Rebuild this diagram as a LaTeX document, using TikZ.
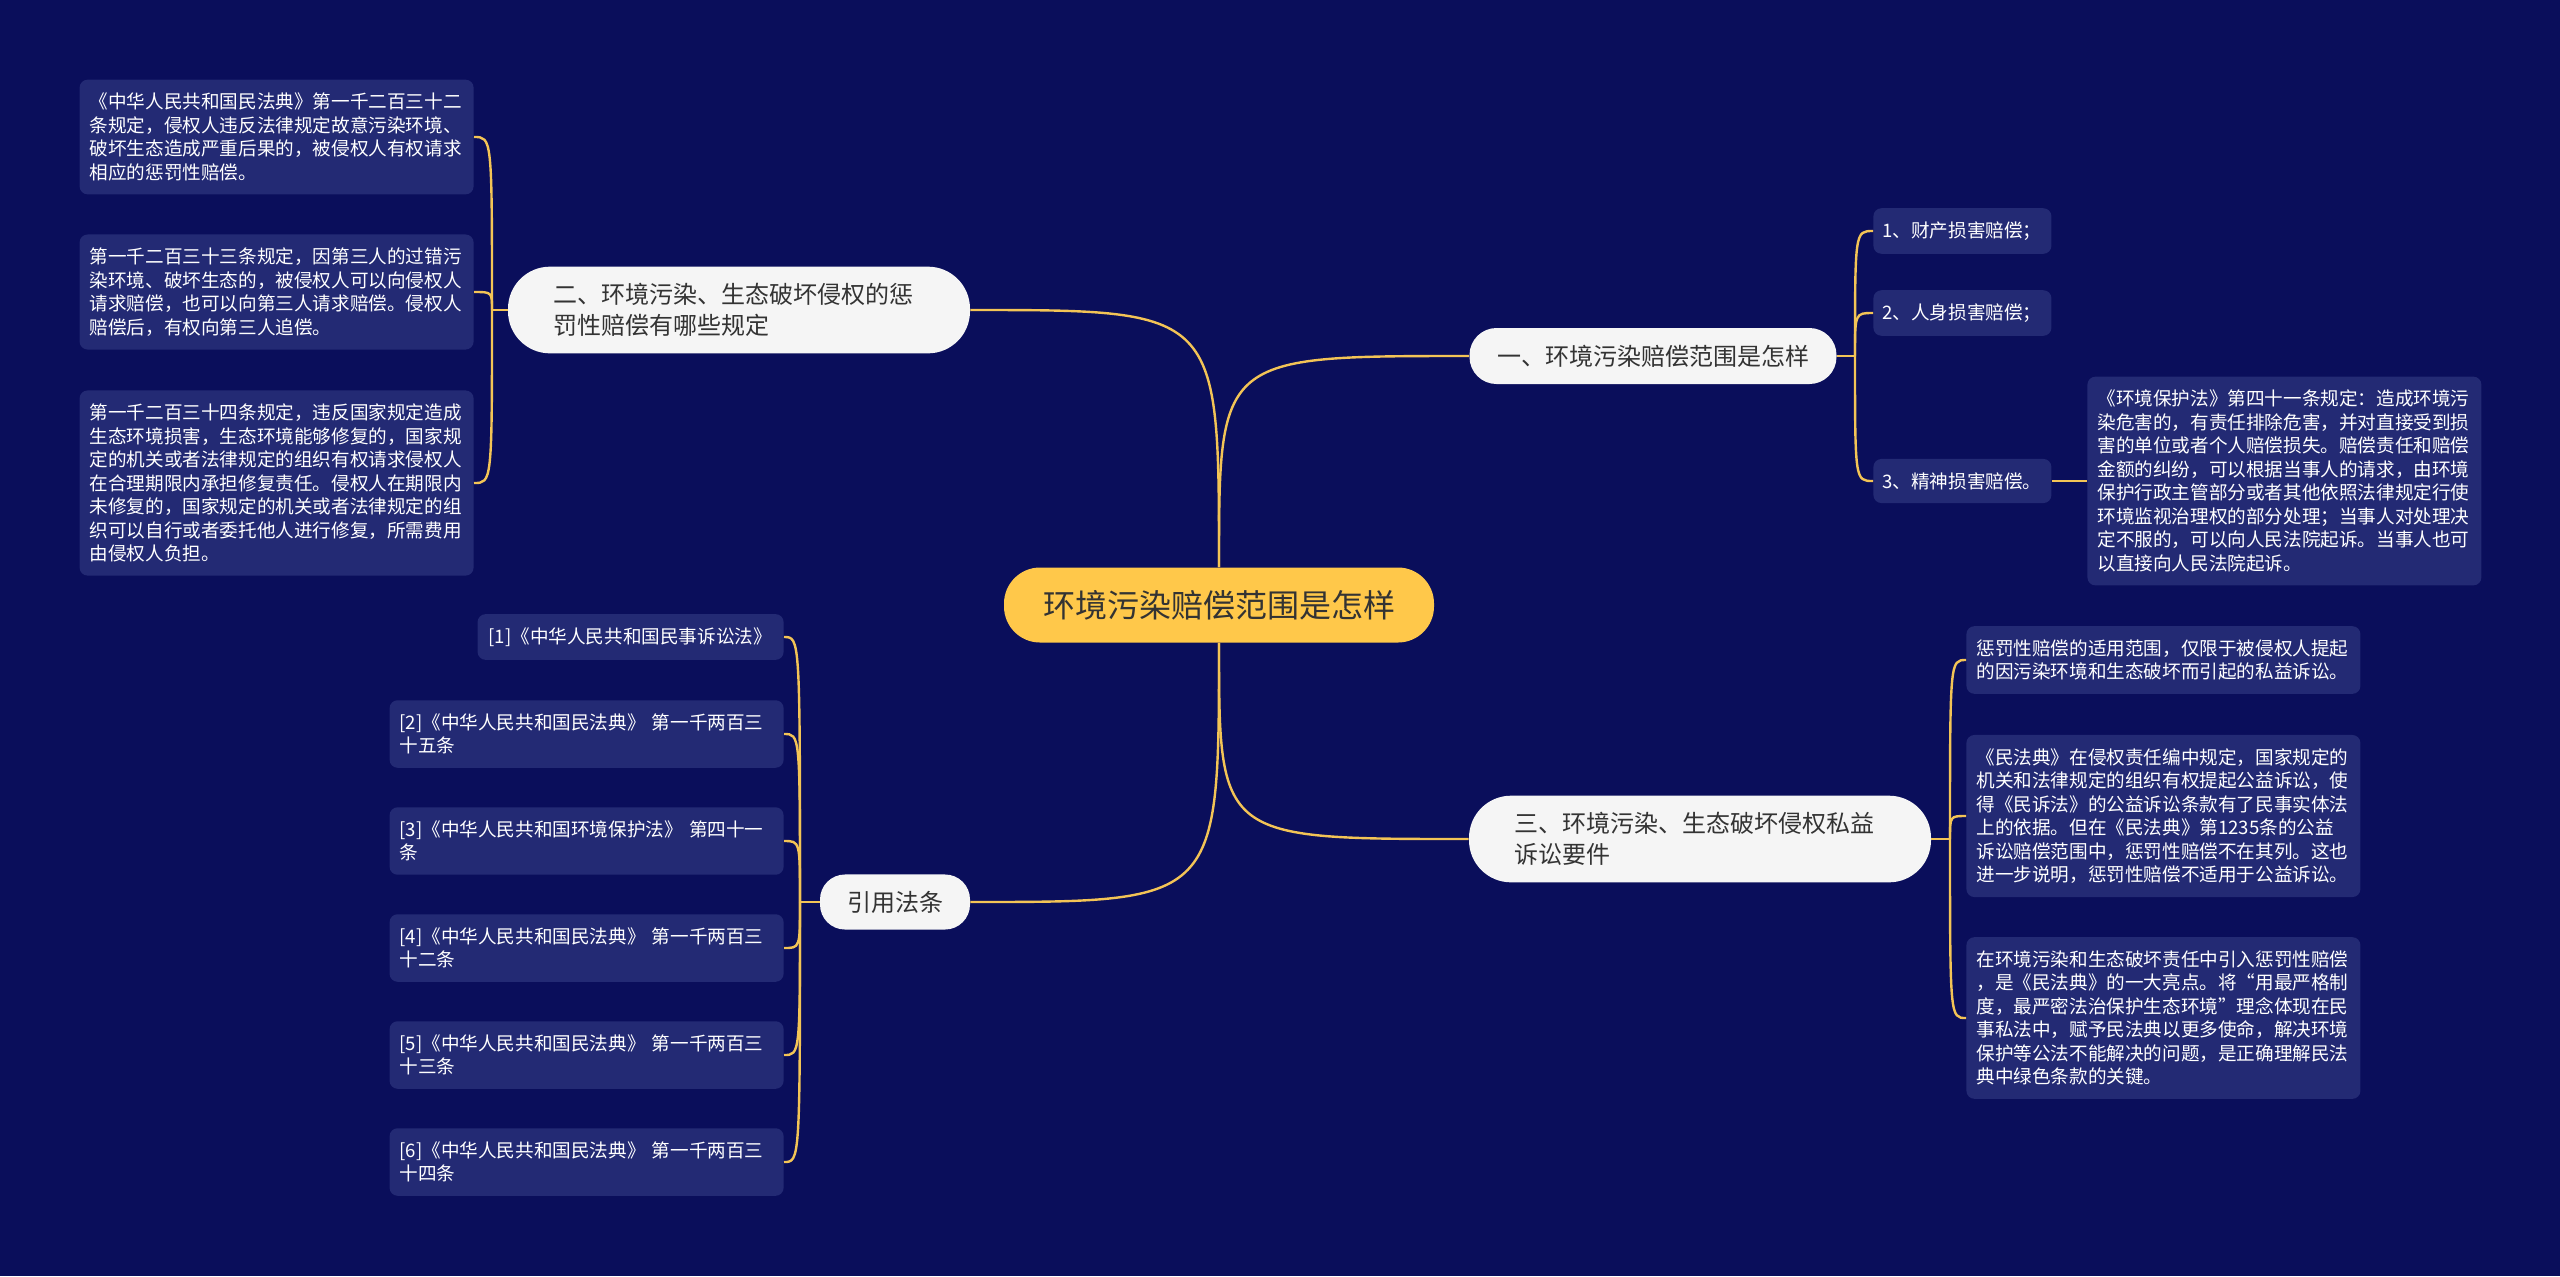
\documentclass[tikz,border=0pt]{standalone}
\usepackage{fontspec}
\setmainfont{Noto Sans CJK SC}
\definecolor{bgnavy}{HTML}{0A0E5B}
\definecolor{leafblue}{HTML}{232A74}
\definecolor{linkgold}{HTML}{F3C456}
\definecolor{rootyellow}{HTML}{FFC84A}
\definecolor{branchwhite}{HTML}{F5F5F5}
\definecolor{textdark}{HTML}{333333}

\begin{document}
\begin{tikzpicture}[x = 0.5pt, y = -0.5pt,
        leaf/.style = {fill = leafblue, text = white, rounded corners = 4pt, align = left,
            text width = 187pt, inner xsep = 5pt, inner ysep = 6.7pt,
            font = \fontsize{9.3pt}{11.75pt}\selectfont},
        branch/.style = {fill = branchwhite, text = textdark, inner ysep = 8.2pt,
            font = \fontsize{12pt}{15.8pt}\selectfont},
        twoline/.style = {text width = 186pt, align = left, inner xsep = 22.5pt, rounded corners = 21pt},
        rootbox/.style = {fill = rootyellow, text = textdark, minimum width = 215pt, minimum height = 37.5pt,
            rounded corners = 18pt, font = \fontsize{16pt}{20pt}\selectfont},
        branchline/.style = {draw = linkgold, line width = 1.2pt}]
        \fill[bgnavy] (0, 0) rectangle (2560, 1276);
        \useasboundingbox (0, 0) rectangle (2560, 1276);
        % centre
        \node[rootbox] (root) at (1219, 605) {环境污染赔偿范围是怎样};
        % main branches
        \node[branch, minimum width = 183.5pt, minimum height = 28pt, rounded corners = 13.5pt] (b1) at (1653, 356) {一、环境污染赔偿范围是怎样};
        \node[branch, twoline] (b2) at (739, 310) {二、环境污染、生态破坏侵权的惩\\罚性赔偿有哪些规定};
        \node[branch, twoline] (b3) at (1700, 839) {三、环境污染、生态破坏侵权私益\\诉讼要件};
        \node[branch, minimum width = 75pt, minimum height = 26pt, rounded corners = 12.5pt] (b4) at (895, 902) {引用法条};
        \coordinate (j1) at (1855, 356);
        \coordinate (j2) at (492, 310);
        \coordinate (j3) at (1950, 839);
        \coordinate (j4) at (800, 902);
        % branch one
        \node[leaf, text width = 80pt, inner xsep = 4.5pt, anchor = west] (c11) at (1873, 231) {1、财产损害赔偿；};
        \node[leaf, text width = 80pt, inner xsep = 4.5pt, anchor = west] (c12) at (1873, 313) {2、人身损害赔偿；};
        \node[leaf, text width = 80pt, inner xsep = 4.5pt, anchor = west] (c13) at (1873, 481) {3、精神损害赔偿。};
        \node[leaf, anchor = west] (g13) at (2087, 481) {《环境保护法》第四十一条规定：造成环境污\\染危害的，有责任排除危害，并对直接受到损\\害的单位或者个人赔偿损失。赔偿责任和赔偿\\金额的纠纷，可以根据当事人的请求，由环境\\保护行政主管部分或者其他依照法律规定行使\\环境监视治理权的部分处理；当事人对处理决\\定不服的，可以向人民法院起诉。当事人也可\\以直接向人民法院起诉。};
        % branch two
        \node[leaf, anchor = east] (c21) at (474, 137) {《中华人民共和国民法典》第一千二百三十二\\条规定，侵权人违反法律规定故意污染环境、\\破坏生态造成严重后果的，被侵权人有权请求\\相应的惩罚性赔偿。};
        \node[leaf, anchor = east] (c22) at (474, 292) {第一千二百三十三条规定，因第三人的过错污\\染环境、破坏生态的，被侵权人可以向侵权人\\请求赔偿，也可以向第三人请求赔偿。侵权人\\赔偿后，有权向第三人追偿。};
        \node[leaf, anchor = east] (c23) at (474, 483) {第一千二百三十四条规定，违反国家规定造成\\生态环境损害，生态环境能够修复的，国家规\\定的机关或者法律规定的组织有权请求侵权人\\在合理期限内承担修复责任。侵权人在期限内\\未修复的，国家规定的机关或者法律规定的组\\织可以自行或者委托他人进行修复，所需费用\\由侵权人负担。};
        % branch three
        \node[leaf, anchor = west] (c31) at (1966, 660) {惩罚性赔偿的适用范围，仅限于被侵权人提起\\的因污染环境和生态破坏而引起的私益诉讼。};
        \node[leaf, anchor = west] (c32) at (1966, 816) {《民法典》在侵权责任编中规定，国家规定的\\机关和法律规定的组织有权提起公益诉讼，使\\得《民诉法》的公益诉讼条款有了民事实体法\\上的依据。但在《民法典》第1235条的公益\\诉讼赔偿范围中，惩罚性赔偿不在其列。这也\\进一步说明，惩罚性赔偿不适用于公益诉讼。};
        \node[leaf, anchor = west] (c33) at (1966, 1018) {在环境污染和生态破坏责任中引入惩罚性赔偿\\，是《民法典》的一大亮点。将“用最严格制\\度，最严密法治保护生态环境”理念体现在民\\事私法中，赋予民法典以更多使命，解决环境\\保护等公法不能解决的问题，是正确理解民法\\典中绿色条款的关键。};
        % branch four
        \node[leaf, text width = 142pt, inner xsep = 5.5pt, anchor = east] (c41) at (784, 637) {[1]《中华人民共和国民事诉讼法》};
        \foreach \k/\y/\t in {2/734/{[2]《中华人民共和国民法典》 第一千两百三\\十五条},
                3/841/{[3]《中华人民共和国环境保护法》 第四十一\\条},
                4/948/{[4]《中华人民共和国民法典》 第一千两百三\\十二条},
                5/1055/{[5]《中华人民共和国民法典》 第一千两百三\\十三条},
                6/1162/{[6]《中华人民共和国民法典》 第一千两百三\\十四条}}{
            \node[leaf, anchor = east] (c4\k) at (784, \y) {\t};
        }
        % connectors
        \draw[branchline] (root.north) .. controls (root.north |- b1.west) .. (b1.west);
        \draw[branchline] (root.north) .. controls (root.north |- b2.east) .. (b2.east);
        \draw[branchline] (root.south) .. controls (root.south |- b3.west) .. (b3.west);
        \draw[branchline] (root.south) .. controls (root.south |- b4.east) .. (b4.east);
        \draw[branchline] (b1.east) -- (j1);
        \draw[branchline] (b2.west) -- (j2);
        \draw[branchline] (b3.east) -- (j3);
        \draw[branchline] (b4.west) -- (j4);
        \foreach \k in {1, 2, 3}{
            \draw[branchline] (j1) .. controls (j1 |- c1\k.west) .. (c1\k.west);
            \draw[branchline] (j2) .. controls (j2 |- c2\k.east) .. (c2\k.east);
            \draw[branchline] (j3) .. controls (j3 |- c3\k.west) .. (c3\k.west);
        }
        \foreach \k in {1, ..., 6}{
            \draw[branchline] (j4) .. controls (j4 |- c4\k.east) .. (c4\k.east);
        }
        \draw[branchline] (c13.east) -- (g13.west);
    \end{tikzpicture}
\end{document}
